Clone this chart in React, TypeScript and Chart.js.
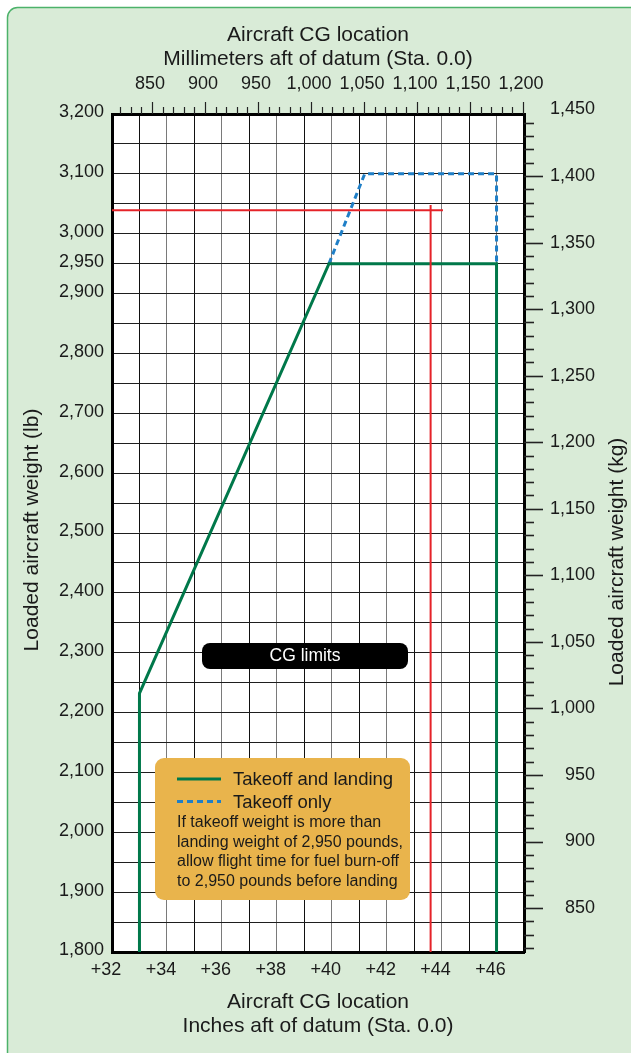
import React, { useEffect, useRef } from 'react';
import { Chart, registerables } from 'chart.js';

Chart.register(...registerables);

const FONT = '"Liberation Sans", Arial, Helvetica, sans-serif';
const TEXT = '#1a1a1a';

// ---- axis ranges ----
const CG_IN_MIN = 32;
const CG_IN_MAX = 47;
const WEIGHT_LB_MIN = 1800;
const WEIGHT_LB_MAX = 3200;
const CG_MM_MIN = 812.3;
const CG_MM_MAX = 1201;
const WEIGHT_KG_MIN = 817;
const WEIGHT_KG_MAX = 1446.6;

// ---- tick labels ----
const CG_IN_TICKS = [32, 34, 36, 38, 40, 42, 44, 46];
const WEIGHT_LB_TICKS = [1800, 1900, 2000, 2100, 2200, 2300, 2400, 2500, 2600, 2700, 2800, 2900, 2950, 3000, 3100, 3200];
const CG_MM_TICKS = [850, 900, 950, 1000, 1050, 1100, 1150, 1200];
const WEIGHT_KG_TICKS = [850, 900, 950, 1000, 1050, 1100, 1150, 1200, 1250, 1300, 1350, 1400, 1450];

// ---- series ----
const TAKEOFF_LANDING_CG = [33.0, 33.0, 39.9, 46.0, 46.0];
const TAKEOFF_LANDING_LB = [1800, 2232, 2950, 2950, 1800];
const TAKEOFF_ONLY_CG = [39.9, 41.2, 46.0, 46.0];
const TAKEOFF_ONLY_LB = [2950, 3100, 3100, 2950];
const EXAMPLE_WEIGHT_CG = [32.0, 44.05];
const EXAMPLE_WEIGHT_LB = [3039, 3039];
const EXAMPLE_CG_CG = [43.6, 43.6];
const EXAMPLE_CG_LB = [1800, 3048];

// ---- text ----
const TOP_TITLE = ['Aircraft CG location', 'Millimeters aft of datum (Sta. 0.0)'];
const BOTTOM_TITLE = ['Aircraft CG location', 'Inches aft of datum (Sta. 0.0)'];
const LEFT_TITLE = 'Loaded aircraft weight (lb)';
const RIGHT_TITLE = 'Loaded aircraft weight (kg)';
const CG_LABEL = 'CG limits';
const LEGEND_LABELS = ['Takeoff and landing', 'Takeoff only'];
const LEGEND_NOTE = [
  'If takeoff weight is more than',
  'landing weight of 2,950 pounds,',
  'allow flight time for fuel burn-off',
  'to 2,950 pounds before landing',
];

const GREEN = '#00784a';
const BLUE = '#1f7fc7';
const RED = '#e52329';
const PANEL_BG = '#d9ebd7';
const PANEL_BORDER = '#4cb26a';
const LEGEND_BG = '#e9b44c';

const pts = (xs: number[], ys: number[]) => xs.map((x, i) => ({ x, y: ys[i] }));
const fmt = (v: number) => v.toLocaleString('en-US');

const decor = {
  id: 'decor',
  beforeDraw(chart: any) {
    const { ctx, chartArea: a } = chart;
    ctx.save();
    ctx.fillStyle = PANEL_BG;
    ctx.strokeStyle = PANEL_BORDER;
    ctx.lineWidth = 1.5;
    ctx.beginPath();
    ctx.roundRect(7.5, 7.5, chart.width + 30, chart.height + 30, 10);
    ctx.fill();
    ctx.stroke();
    ctx.fillStyle = '#ffffff';
    ctx.fillRect(a.left, a.top, a.right - a.left, a.bottom - a.top);
    ctx.restore();
  },
  afterDatasetsDraw(chart: any) {
    const { ctx, chartArea: a } = chart;
    const ds = chart.data.datasets;
    ctx.save();
    // CG limits label
    const cx = a.left + 90, cy = a.top + 529;
    ctx.fillStyle = '#000';
    ctx.beginPath();
    ctx.roundRect(cx, cy, 206, 26, 8);
    ctx.fill();
    ctx.fillStyle = '#fff';
    ctx.font = `17.5px ${FONT}`;
    ctx.textAlign = 'center';
    ctx.textBaseline = 'middle';
    ctx.fillText(CG_LABEL, cx + 103, cy + 13.5);

    // legend box
    const lx = a.left + 43, ly = a.top + 644;
    ctx.fillStyle = LEGEND_BG;
    ctx.beginPath();
    ctx.roundRect(lx, ly, 255, 142, 9);
    ctx.fill();
    const sampleDs = [ds[2], ds[3]];
    ctx.textAlign = 'left';
    ctx.font = `18.5px ${FONT}`;
    sampleDs.forEach((d: any, i: number) => {
      const y = ly + 21 + i * 22.5;
      ctx.strokeStyle = d.borderColor;
      ctx.lineWidth = d.borderWidth;
      ctx.setLineDash(d.borderDash || []);
      ctx.beginPath();
      ctx.moveTo(lx + 22, y);
      ctx.lineTo(lx + 66, y);
      ctx.stroke();
      ctx.setLineDash([]);
      ctx.fillStyle = TEXT;
      ctx.fillText(LEGEND_LABELS[i], lx + 78, y + 1);
    });
    ctx.font = `16px ${FONT}`;
    LEGEND_NOTE.forEach((t, i) => {
      ctx.fillText(t, lx + 22, ly + 65 + i * 19.5);
    });
    ctx.restore();
  },
  afterDraw(chart: any) {
    const { ctx, chartArea: a, scales } = chart;
    ctx.save();
    // minor / major tick marks on mm axis (top)
    const mm = scales.xMm;
    ctx.strokeStyle = '#222';
    ctx.lineWidth = 1.2;
    for (let v = 820; v <= 1200; v += 10) {
      const x = Math.round(mm.getPixelForValue(v)) + 0.5;
      const len = v % 50 === 0 ? 12 : 7;
      ctx.beginPath();
      ctx.moveTo(x, a.top);
      ctx.lineTo(x, a.top - len);
      ctx.stroke();
    }
    // kg axis (right)
    const kg = scales.yKg;
    ctx.lineWidth = 1.6;
    for (let v = 820; v <= 1440; v += 10) {
      const y = Math.round(kg.getPixelForValue(v)) + 0.5;
      const len = v % 50 === 0 ? 19 : 10;
      ctx.beginPath();
      ctx.moveTo(a.right, y);
      ctx.lineTo(a.right + len, y);
      ctx.stroke();
    }
    // axis titles
    ctx.fillStyle = TEXT;
    ctx.font = `21px ${FONT}`;
    ctx.textAlign = 'center';
    ctx.textBaseline = 'middle';
    const mx = (a.left + a.right) / 2;
    TOP_TITLE.forEach((t, i) => ctx.fillText(t, mx, 35 + i * 24));
    BOTTOM_TITLE.forEach((t, i) => ctx.fillText(t, mx, a.bottom + 50 + i * 24));
    ctx.save();
    ctx.translate(32.5, 530);
    ctx.rotate(-Math.PI / 2);
    ctx.fillText(LEFT_TITLE, 0, 0);
    ctx.restore();
    ctx.save();
    ctx.translate(a.right + 93, 562);
    ctx.rotate(-Math.PI / 2);
    ctx.fillText(RIGHT_TITLE, 0, 0);
    ctx.restore();
    ctx.restore();
  },
};

const tickFont = { family: FONT, size: 18 };

export default function App() {
  const ref = useRef<HTMLCanvasElement>(null);
  useEffect(() => {
    const canvas = ref.current!;
    const chart = new Chart(canvas, {
      type: 'scatter',
      data: {
        datasets: [
          { label: 'Example weight', data: pts(EXAMPLE_WEIGHT_CG, EXAMPLE_WEIGHT_LB), showLine: true, borderColor: RED, borderWidth: 2, pointRadius: 0 },
          { label: 'Example CG', data: pts(EXAMPLE_CG_CG, EXAMPLE_CG_LB), showLine: true, borderColor: RED, borderWidth: 2, pointRadius: 0 },
          { label: 'Takeoff and landing', data: pts(TAKEOFF_LANDING_CG, TAKEOFF_LANDING_LB), showLine: true, borderColor: GREEN, borderWidth: 3, pointRadius: 0, borderJoinStyle: 'miter' },
          { label: 'Takeoff only', data: pts(TAKEOFF_ONLY_CG, TAKEOFF_ONLY_LB), showLine: true, borderColor: BLUE, borderWidth: 3, borderDash: [6, 4], pointRadius: 0, borderJoinStyle: 'miter' },
        ] as any,
      },
      options: {
        responsive: false,
        animation: false,
        devicePixelRatio: 1,
        layout: { padding: { left: 0, right: 36, top: 0, bottom: 0 } },
        plugins: { legend: { display: false }, tooltip: { enabled: false } },
        scales: {
          x: {
            type: 'linear',
            position: 'bottom',
            min: CG_IN_MIN,
            max: CG_IN_MAX,
            afterBuildTicks: (s: any) => {
              const t = [];
              for (let v = CG_IN_MIN; v <= CG_IN_MAX; v += 1) t.push({ value: v });
              s.ticks = t;
            },
            afterFit: (s: any) => { s.height = 101; },
            grid: {
              drawTicks: false,
              lineWidth: 1,
              color: (c: any) => (c.tick && c.tick.value % 2 === 0 ? '#7a7a7a' : '#111'),
            },
            border: { display: true, width: 3, color: '#000' },
            ticks: {
              autoSkip: false,
              maxRotation: 0,
              padding: 7,
              labelOffset: -6,
              color: TEXT,
              font: tickFont,
              callback: (v: any) => (CG_IN_TICKS.includes(v) ? '+' + v : ''),
            },
          },
          y: {
            type: 'linear',
            position: 'left',
            min: WEIGHT_LB_MIN,
            max: WEIGHT_LB_MAX,
            afterBuildTicks: (s: any) => {
              const t = [];
              for (let v = WEIGHT_LB_MIN; v <= WEIGHT_LB_MAX; v += 50) t.push({ value: v });
              s.ticks = t;
            },
            afterFit: (s: any) => { s.width = 112; },
            grid: { drawTicks: false, lineWidth: 1, color: '#1e1e1e' },
            border: { display: true, width: 3, color: '#000' },
            ticks: {
              autoSkip: false,
              padding: 8,
              labelOffset: -1.5,
              color: TEXT,
              font: tickFont,
              callback: (v: any) => (WEIGHT_LB_TICKS.includes(v) ? fmt(v) : ''),
            },
          },
          xMm: {
            type: 'linear',
            position: 'top',
            min: CG_MM_MIN,
            max: CG_MM_MAX,
            afterBuildTicks: (s: any) => { s.ticks = CG_MM_TICKS.map((v) => ({ value: v })); },
            afterFit: (s: any) => { s.height = 114; },
            grid: { display: false, drawTicks: false },
            border: { display: true, width: 3, color: '#000' },
            ticks: {
              autoSkip: false,
              maxRotation: 0,
              padding: 19,
              labelOffset: -2,
              color: TEXT,
              font: tickFont,
              callback: (v: any) => fmt(v),
            },
          },
          yKg: {
            type: 'linear',
            position: 'right',
            min: WEIGHT_KG_MIN,
            max: WEIGHT_KG_MAX,
            afterBuildTicks: (s: any) => { s.ticks = WEIGHT_KG_TICKS.map((v) => ({ value: v })); },
            afterFit: (s: any) => { s.width = 71; },
            grid: { display: false, drawTicks: false },
            border: { display: true, width: 3, color: '#000' },
            ticks: {
              autoSkip: false,
              crossAlign: 'far',
              padding: 8,
              color: TEXT,
              font: tickFont,
              callback: (v: any) => fmt(v),
            },
          },
        },
      } as any,
      plugins: [decor],
    });
    return () => chart.destroy();
  }, []);

  return (
    <div style={{ position: 'absolute', left: 0, top: 0, width: 631, height: 1053 }}>
      <canvas ref={ref} width={631} height={1053} style={{ display: 'block', width: 631, height: 1053 }} />
    </div>
  );
}
